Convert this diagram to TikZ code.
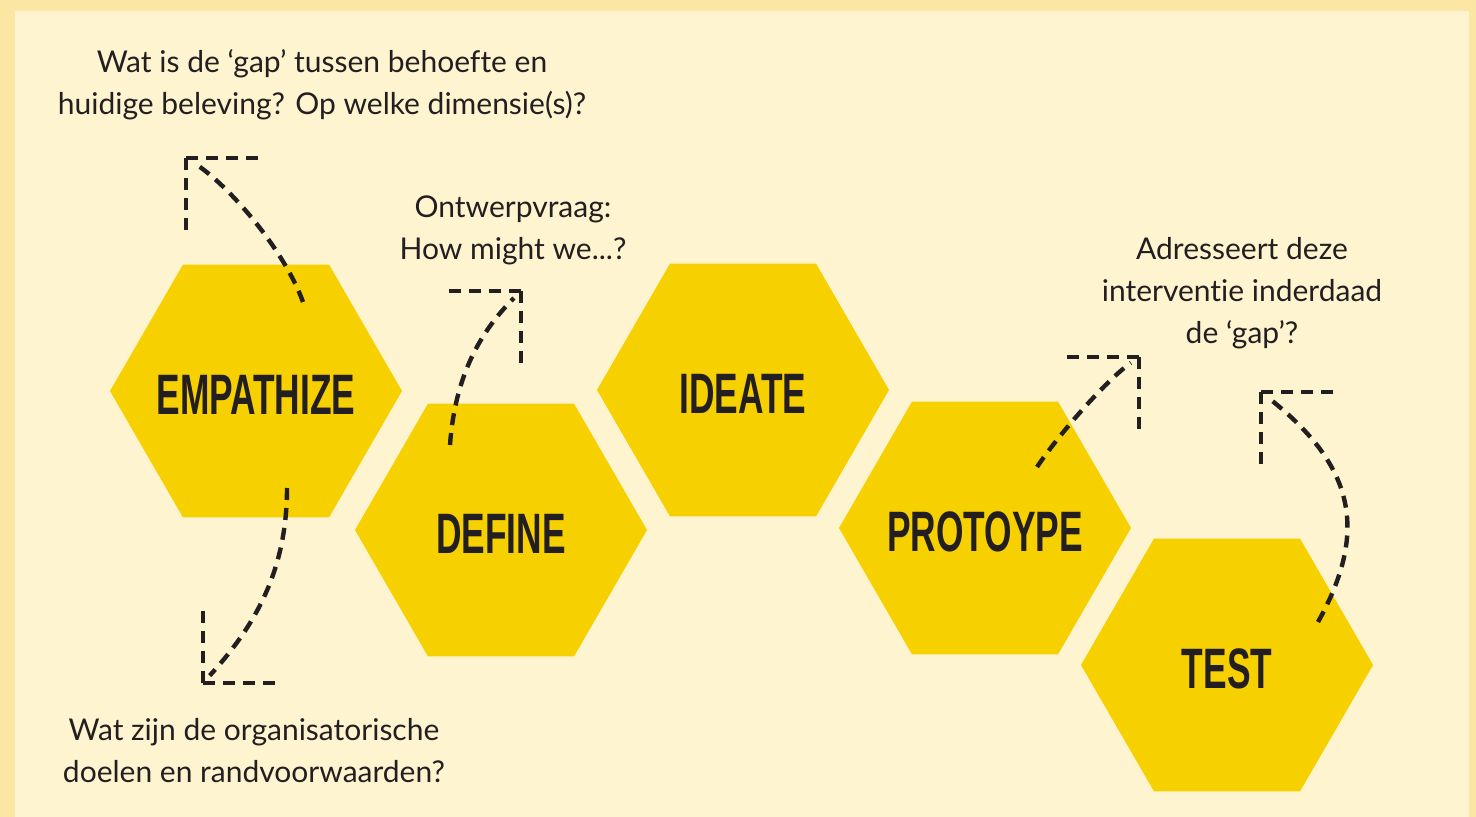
\documentclass[tikz,border=0pt]{standalone}
\usepackage{fontspec}
\setmainfont{Lato}[Ligatures=NoCommon]
\newfontfamily\hexfont[FakeStretch=0.62]{Liberation Sans}
\usetikzlibrary{shapes.geometric}
\definecolor{frameyellow}{RGB}{251,231,163}
\definecolor{paperyellow}{RGB}{254,244,208}
\definecolor{hexgold}{RGB}{247,208,0}
\definecolor{inkdark}{RGB}{35,31,32}

\begin{document}
\begin{tikzpicture}[x=0.5pt, y=-0.5pt,
    hex/.style={regular polygon, regular polygon sides=6, minimum size=146pt, inner sep=0pt, outer sep=0pt, fill=hexgold},
    hexlab/.style={text=inkdark, inner sep=0pt, font=\hexfont\bfseries\fontsize{28.5}{28.5}\selectfont},
    note/.style={align=center, text=inkdark, font=\fontsize{15}{21}\selectfont},
    flow/.style={draw=inkdark, line width=2.2pt, dash pattern=on 6pt off 4pt},
    tip/.style={flow, shorten >=5pt}
]
% paper with its frame
\useasboundingbox (0,0) rectangle (1476,817);
\fill[frameyellow] (0,0) rectangle (1476,817);
\fill[paperyellow] (15,11) rectangle (1469,817);

% the five stages
\foreach \n/\x/\y/\lab in {emp/256/391/EMPATHIZE, def/501/530/DEFINE, ide/743/390/IDEATE, pro/985/528/PROTOYPE, tst/1227/665/TEST} {
    \node[hex] (\n) at (\x,\y) {};
    \node[hexlab] at ([yshift=-2pt]\n) {\lab};
}

% questions
\node[note] (qGap)    at (322,85)  {Wat is de ‘gap’ tussen behoefte en\\huidige beleving? Op welke dimensie(s)?};
\node[note] (qHow)    at (513,230) {Ontwerpvraag:\\How might we...?};
\node[note] (qCheck)  at (1242,293) {Adresseert deze\\interventie inderdaad\\de ‘gap’?};
\node[note] (qOrg)    at (254,751) {Wat zijn de organisatorische\\doelen en randvoorwaarden?};

% start points and corners of the arrows
\coordinate (empUp)   at (303,302);
\coordinate (empDown) at (287,488);
\coordinate (defUp)   at (450,445);
\coordinate (proUp)   at (1037,467);
\coordinate (tstUp)   at (1318,622);
\coordinate (cA) at (186,158);
\coordinate (cB) at (203,683);
\coordinate (cC) at (521,291);
\coordinate (cD) at (1139,357);
\coordinate (cE) at (1261,392);

% curved arrows
\draw[tip] (empUp) .. controls +(-20,-55) and +(40,25) .. (cA);
\draw[tip] (empDown) .. controls +(0,85) and +(50,-55) .. (cB);
\draw[tip] (defUp) .. controls +(5,-70) and +(-40,40) .. (cC);
\draw[tip] (proUp) .. controls +(20,-30) and +(-35,25) .. (cD);
\draw[tip] (tstUp) .. controls +(50,-90) and +(95,75) .. (cE);

% open heads
\foreach \c/\dx/\dy in {cA/72/74, cB/73/-73, cC/-73/72, cD/-72/73, cE/73/73} {
    \draw[flow] (\c) -- ++(\dx,0);
    \draw[flow] (\c) -- ++(0,\dy);
}
\end{tikzpicture}
\end{document}
